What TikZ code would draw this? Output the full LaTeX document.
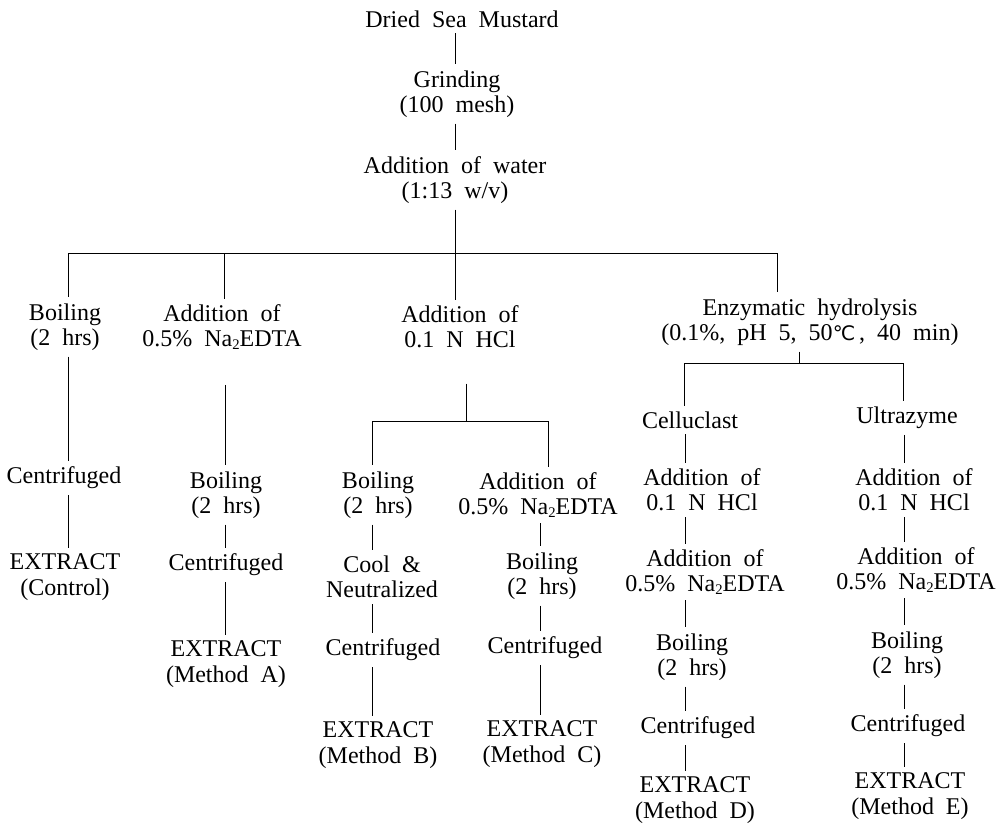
\documentclass[tikz,border=0pt]{standalone}
\usepackage{fontspec}
\setmainfont{Liberation Serif}[WordSpace=2]
\newfontfamily\symfont{DejaVu Sans}
\newcommand{\natwo}{Na\raisebox{-0.25ex}{\fontsize{11}{11}\selectfont 2}EDTA}
\begin{document}
\begin{tikzpicture}[x=0.75pt,y=-0.75pt,
  lbl/.style={align=center,inner xsep=0pt,inner ysep=4.5pt,outer sep=0pt,
    font=\fontsize{18}{19}\selectfont},
  conn/.style={line width=0.75pt}]
\useasboundingbox (0,0) rectangle (999,824);
% column x-coordinates
\coordinate (T)   at (455,0);
\coordinate (L1)  at (68,0);
\coordinate (L2)  at (225,0);
\coordinate (L3)  at (466,0);
\coordinate (L3l) at (372,0);
\coordinate (L3r) at (540,0);
\coordinate (L4)  at (777,0);
\coordinate (L4s) at (799,0);
\coordinate (L4l) at (685,0);
\coordinate (L4r) at (904,0);
% junctions
\coordinate (h1) at (68,253);
\coordinate (h2) at (224,253);
\coordinate (h3) at (455,253);
\coordinate (h4) at (777,253);
\coordinate (j3) at (466,421);
\coordinate (j3l) at (372,421);
\coordinate (j3r) at (548,421);
\coordinate (j4) at (799,363);
\coordinate (j4l) at (684,363);
\coordinate (j4r) at (903,363);

% nodes
\node[lbl] (root)  at (462,19)  {Dried Sea Mustard};
\node[lbl] (grind) at (457,94)  {Grinding\\(100 mesh)};
\node[lbl] (water) at (455,180) {Addition of water\\(1:13 w/v)};
\node[lbl] (b1) at (65,327)  {Boiling\\(2 hrs)};
\node[lbl] (b2) at (222,327) {Addition of\\0.5\% \natwo};
\node[lbl] (b3) at (460,327) {Addition of\\0.1 N HCl};
\node[lbl] (b4) at (810,322) {Enzymatic hydrolysis\\(0.1\%, pH 5, 50{\symfont\fontsize{15}{15}\selectfont ℃}\,, 40 min)};
% column 1
\node[lbl] (c1) at (64,478) {Centrifuged};
\node[lbl] (e1) at (65,577) {EXTRACT\\(Control)};
% column 2
\node[lbl] (d2) at (226,495) {Boiling\\(2 hrs)};
\node[lbl] (c2) at (226,565) {Centrifuged};
\node[lbl] (e2) at (226,664) {EXTRACT\\(Method A)};
% column 3 left
\node[lbl] (b3l) at (378,495) {Boiling\\(2 hrs)};
\node[lbl] (n3l) at (382,577) {Cool \&\\Neutralized};
\node[lbl] (c3l) at (383,650) {Centrifuged};
\node[lbl] (e3l) at (378,745) {EXTRACT\\(Method B)};
% column 3 right
\node[lbl] (a3r) at (538,495) {Addition of\\0.5\% \natwo};
\node[lbl] (b3r) at (542,576) {Boiling\\(2 hrs)};
\node[lbl] (c3r) at (545,648) {Centrifuged};
\node[lbl] (e3r) at (542,744) {EXTRACT\\(Method C)};
% column 4 left
\node[lbl] (cel)  at (690,420) {Celluclast};
\node[lbl] (h4l)  at (702,490) {Addition of\\0.1 N HCl};
\node[lbl] (ed4l) at (705,572) {Addition of\\0.5\% \natwo};
\node[lbl] (bo4l) at (692,657) {Boiling\\(2 hrs)};
\node[lbl] (c4l)  at (698,728) {Centrifuged};
\node[lbl] (e4l)  at (695,800) {EXTRACT\\(Method D)};
% column 4 right
\node[lbl] (ult)  at (907,418) {Ultrazyme};
\node[lbl] (h4r)  at (914,490) {Addition of\\0.1 N HCl};
\node[lbl] (ed4r) at (916,570) {Addition of\\0.5\% \natwo};
\node[lbl] (bo4r) at (907,655) {Boiling\\(2 hrs)};
\node[lbl] (c4r)  at (908,726) {Centrifuged};
\node[lbl] (e4r)  at (910,796) {EXTRACT\\(Method E)};

% connectors: trunk
\draw[conn] (root.south -| T) -- (grind.north -| T);
\draw[conn] (grind.south -| T) -- (water.north -| T);
\draw[conn] (water.south -| T) -- (h3);
\draw[conn] (h1) -- (h4);
\draw[conn] (h1) -- (b1.north -| h1);
\draw[conn] (h2) -- (b2.north -| h2);
\draw[conn] (h3) -- (b3.north -| h3);
\draw[conn] (h4) -- (b4.north -| h4);
% column 1
\draw[conn] (b1.south -| L1) -- (c1.north -| L1);
\draw[conn] (c1.south -| L1) -- (e1.north -| L1);
% column 2
\draw[conn,shorten <=22pt] (b2.south -| L2) -- (d2.north -| L2);
\draw[conn] (d2.south -| L2) -- (c2.north -| L2);
\draw[conn] (c2.south -| L2) -- (e2.north -| L2);
% column 3
\draw[conn,shorten <=22pt] (b3.south -| L3) -- (j3);
\draw[conn] (j3l) -- (j3r);
\draw[conn] (j3l) -- (b3l.north -| j3l);
\draw[conn] (j3r) -- (a3r.north -| j3r);
\draw[conn] (b3l.south -| L3l) -- (n3l.north -| L3l);
\draw[conn] (n3l.south -| L3l) -- (c3l.north -| L3l);
\draw[conn] (c3l.south -| L3l) -- (e3l.north -| L3l);
\draw[conn] (a3r.south -| L3r) -- (b3r.north -| L3r);
\draw[conn] (b3r.south -| L3r) -- (c3r.north -| L3r);
\draw[conn] (c3r.south -| L3r) -- (e3r.north -| L3r);
% column 4
\draw[conn] (b4.south -| L4s) -- (j4);
\draw[conn] (j4l) -- (j4r);
\draw[conn] (j4l) -- (cel.north -| j4l);
\draw[conn] (j4r) -- (ult.north -| j4r);
\draw[conn] (cel.south -| L4l) -- (h4l.north -| L4l);
\draw[conn] (h4l.south -| L4l) -- (ed4l.north -| L4l);
\draw[conn] (ed4l.south -| L4l) -- (bo4l.north -| L4l);
\draw[conn] (bo4l.south -| L4l) -- (c4l.north -| L4l);
\draw[conn] (c4l.south -| L4l) -- (e4l.north -| L4l);
\draw[conn] (ult.south -| L4r) -- (h4r.north -| L4r);
\draw[conn] (h4r.south -| L4r) -- (ed4r.north -| L4r);
\draw[conn] (ed4r.south -| L4r) -- (bo4r.north -| L4r);
\draw[conn] (bo4r.south -| L4r) -- (c4r.north -| L4r);
\draw[conn] (c4r.south -| L4r) -- (e4r.north -| L4r);
\end{tikzpicture}
\end{document}
